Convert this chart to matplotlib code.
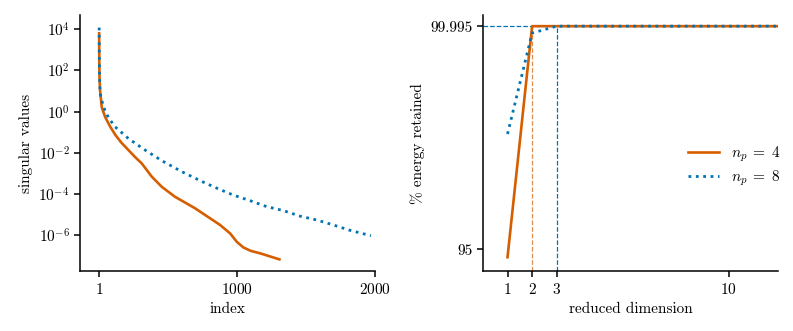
import numpy as np
import matplotlib
matplotlib.use("Agg")
from matplotlib import pyplot as plt

# singular value decay
idx_np4 = [1, 2, 3, 5, 8, 20, 44, 80, 117, 160, 213, 260, 310, 383, 455, 551, 696, 877, 950, 998,
           1046, 1100, 1167, 1307]
sv_np4 = [6.3e3, 3.2e2, 7.9e1, 2.5e1, 1.0e1, 1.6e0, 5.5e-1, 1.9e-1, 7.6e-2, 3.2e-2, 1.35e-2, 6.3e-3,
          3.0e-3, 6.8e-4, 2.2e-4, 7.2e-5, 2.0e-5, 3.1e-6, 1.2e-6, 4.7e-7, 2.5e-7, 1.7e-7, 1.3e-7, 6.6e-8]

idx_np8 = [1, 2, 3, 5, 8, 32, 68, 117, 213, 334, 455, 600, 749, 853, 974, 1094, 1215,
           1335, 1456, 1577, 1697, 1818, 1970]
sv_np8 = [1.2e4, 6.3e2, 1.26e2, 3.2e1, 7.6e0, 1.7e0, 5.1e-1, 1.8e-1, 4.9e-2, 1.35e-2, 4.1e-3,
          1.2e-3, 3.9e-4, 1.9e-4, 8.7e-5, 4.7e-5, 2.4e-5, 1.55e-5, 8.3e-6, 5.4e-6, 3.1e-6,
          1.7e-6, 9.3e-7]

# energy retained vs reduced dimension
dims = [1, 2, 3, 4, 5, 6, 7, 8, 9, 10, 11, 12]
energy_np4 = [94.82, 99.995, 99.995, 99.995, 99.995, 99.995, 99.995, 99.995, 99.995, 99.995, 99.995, 99.995]
energy_np8 = [97.58, 99.84, 99.995, 99.995, 99.995, 99.995, 99.995, 99.995, 99.995, 99.995, 99.995, 99.995]
thresh = 99.995
rd_np4 = 2
rd_np8 = 3

labels = [r"$n_p\;=\;4$", r"$n_p\;=\;8$"]
c_orange = "#d55e00"
c_blue = "#0173b2"

plt.rcParams["font.family"] = "serif"
plt.rcParams["font.serif"] = ["cmr10"]
plt.rcParams["mathtext.fontset"] = "cm"
plt.rcParams["axes.formatter.use_mathtext"] = True
plt.rcParams["font.size"] = 11
plt.rcParams["axes.linewidth"] = 1.1
plt.rcParams["xtick.major.width"] = 1.1
plt.rcParams["ytick.major.width"] = 1.1
plt.rcParams["xtick.major.size"] = 4
plt.rcParams["ytick.major.size"] = 4

fig = plt.figure(figsize=(7.93, 3.31), dpi=100)
ax1 = fig.add_axes([0.101, 0.181, 0.372, 0.773])
ax2 = fig.add_axes([0.609, 0.181, 0.372, 0.773])

ax1.semilogy(idx_np4, sv_np4, color=c_orange, lw=1.9, label=labels[0])
ax1.semilogy(idx_np8, sv_np8, color=c_blue, lw=2.0, ls=":", label=labels[1])
ax1.set_xlim(-137, 2000)
ax1.set_ylim(10**-7.75, 10**4.68)
ax1.set_xticks([1, 1000, 2000])
ax1.set_yticks([1e4, 1e2, 1e0, 1e-2, 1e-4, 1e-6])
ax1.minorticks_off()
ax1.set_xlabel("index")
ax1.set_ylabel("singular values")

ax2.axhline(thresh, color=c_blue, lw=0.9, ls="--", zorder=1)
ax2.plot([rd_np4, rd_np4], [94.51, thresh], color=c_orange, lw=0.9, ls="--", alpha=0.7, zorder=1)
ax2.plot([rd_np8, rd_np8], [94.51, thresh], color=c_blue, lw=0.9, ls="--", zorder=1)
ax2.plot(dims, energy_np4, color=c_orange, lw=1.9, label=labels[0], zorder=3)
ax2.plot(dims, energy_np8, color=c_blue, lw=2.0, ls=":", label=labels[1], zorder=3)
ax2.set_xlim(0, 12)
ax2.set_ylim(94.51, 100.24)
ax2.set_xticks([1, 2, 3, 10])
ax2.set_yticks([95, thresh])
ax2.set_yticklabels(["95", "99.995"])
ax2.set_xlabel("reduced dimension")
ax2.set_ylabel(r"% energy retained")
ax2.legend(loc="center right", bbox_to_anchor=(1.055, 0.41), frameon=False,
           handlelength=2.0, labelspacing=0.35)

for ax in (ax1, ax2):
    ax.spines["top"].set_visible(False)
    ax.spines["right"].set_visible(False)

fig.savefig("out.png", dpi=100)
